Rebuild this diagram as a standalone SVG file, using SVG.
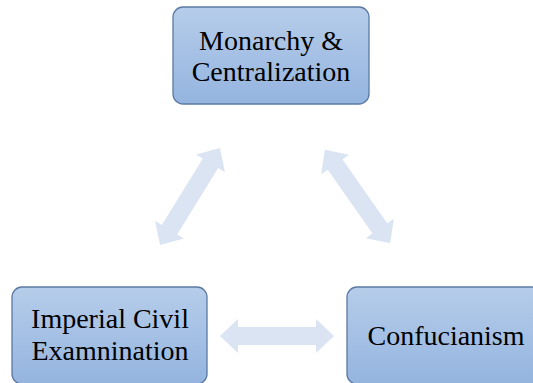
<svg xmlns="http://www.w3.org/2000/svg" width="533" height="383" viewBox="0 0 533 383">
<defs>
<linearGradient id="boxg" x1="0" y1="0" x2="0" y2="1">
<stop offset="0" stop-color="#b6cdea"/>
<stop offset="1" stop-color="#94b4df"/>
</linearGradient>
<path id="darrow" d="M -57 0 L -39 -17 L -39 -9 L 39 -9 L 39 -17 L 57 0 L 39 17 L 39 9 L -39 9 L -39 17 Z"/>
</defs>
<style>
.box{fill:url(#boxg);stroke:#5b79a3;stroke-width:1.3}
.lbl{font-family:"Liberation Serif","Times New Roman",serif;font-size:28px;fill:#000;text-anchor:middle}
.arr{fill:#dbe4f3}
</style>
<g id="connectors">
<use href="#darrow" class="arr" transform="translate(190 196.5) rotate(-58.3)"/>
<use href="#darrow" class="arr" transform="translate(357.5 196.5) rotate(55)"/>
<use href="#darrow" class="arr" transform="translate(277 336)"/>
</g>
<g id="monarchy">
<rect class="box" x="173" y="7" width="196" height="97" rx="10"/>
<text class="lbl" x="271" y="50">Monarchy &amp;</text>
<text class="lbl" x="271" y="81">Centralization</text>
</g>
<g id="exam">
<rect class="box" x="12" y="287" width="195" height="97" rx="10"/>
<text class="lbl" x="110" y="328">Imperial Civil</text>
<text class="lbl" x="110" y="360">Examnination</text>
</g>
<g id="confucianism">
<rect class="box" x="347" y="287" width="195" height="97" rx="10"/>
<text class="lbl" x="446" y="345">Confucianism</text>
</g>
</svg>
